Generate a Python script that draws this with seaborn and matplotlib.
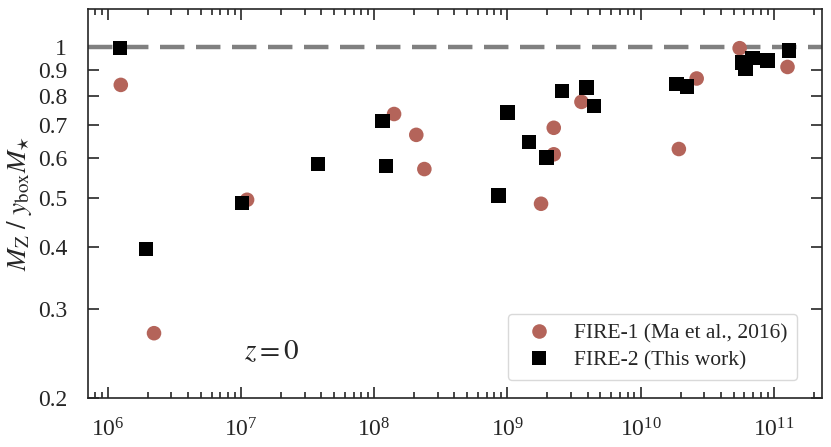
import numpy as np
import pandas as pd
import seaborn as sns
import matplotlib.pyplot as plt
from matplotlib.ticker import FixedLocator, FixedFormatter, LogLocator, NullLocator

# FIRE-1 points (Ma et al., 2016)
fire1_mstar = [1.25e6, 2.22e6, 1.11e7, 1.41e8, 2.07e8, 2.38e8, 1.79e9, 2.23e9,
               2.23e9, 3.6e9, 1.94e10, 2.64e10, 5.55e10, 1.27e11]
fire1_ratio = [0.84, 0.269, 0.496, 0.735, 0.668, 0.571, 0.487, 0.69,
               0.611, 0.777, 0.626, 0.865, 0.994, 0.912]

# FIRE-2 points (this work)
fire2_mstar = [1.23e6, 1.93e6, 1.02e7, 3.77e7, 1.15e8, 1.23e8, 8.6e8, 1.0e9,
               1.45e9, 1.96e9, 2.58e9, 3.93e9, 4.46e9, 1.86e10, 2.24e10,
               5.8e10, 6.16e10, 6.9e10, 8.95e10, 1.30e11]
fire2_ratio = [0.995, 0.396, 0.489, 0.584, 0.712, 0.579, 0.506, 0.74,
               0.646, 0.602, 0.817, 0.83, 0.763, 0.843, 0.834,
               0.93, 0.904, 0.95, 0.939, 0.983]

labels = ["FIRE-1 (Ma et al., 2016)", "FIRE-2 (This work)"]
yticks = [0.2, 0.3, 0.4, 0.5, 0.6, 0.7, 0.8, 0.9, 1.0]
ytick_labels = ["0.2", "0.3", "0.4", "0.5", "0.6", "0.7", "0.8", "0.9", "1"]

df = pd.DataFrame({
    "mstar": fire1_mstar + fire2_mstar,
    "ratio": fire1_ratio + fire2_ratio,
    "sim": [labels[0]] * len(fire1_mstar) + [labels[1]] * len(fire2_mstar),
})

sns.set_style("ticks")
plt.rcParams["font.family"] = ["Liberation Serif", "DejaVu Serif"]
plt.rcParams["mathtext.fontset"] = "stix"

fig = plt.figure(figsize=(8.31, 4.47), dpi=100)
ax = fig.add_axes([0.106, 0.11, 0.883, 0.87])

ax.axhline(1.0, color="#808080", lw=3.2, dashes=(5.5, 2.6), zorder=1)

sns.scatterplot(data=df, x="mstar", y="ratio", hue="sim", style="sim",
                palette={labels[0]: "#b4645a", labels[1]: "black"},
                markers={labels[0]: "o", labels[1]: "s"},
                s=110, linewidth=0, ax=ax, zorder=3)

ax.set_xscale("log")
ax.set_yscale("log")
ax.set_xlim(7.1e5, 2.3e11)
ax.set_ylim(0.2, 1.19)

ax.yaxis.set_major_locator(FixedLocator(yticks))
ax.yaxis.set_major_formatter(FixedFormatter(ytick_labels))
ax.yaxis.set_minor_locator(NullLocator())
ax.xaxis.set_major_locator(LogLocator(base=10, numticks=10))
ax.xaxis.set_minor_locator(LogLocator(base=10, subs=np.arange(2, 10), numticks=20))

ax.tick_params(which="both", direction="in", top=True, right=True, labelsize=17, width=1.2)
ax.tick_params(which="major", length=8)
ax.tick_params(which="minor", length=4)
ax.tick_params(axis="x", pad=15)
ax.tick_params(axis="y", pad=15)
for sp in ax.spines.values():
    sp.set_linewidth(1.2)

ax.set_xlabel("")
ax.set_ylabel(r"$M_{\mathrm{Z}}\ /\ y_{\mathrm{box}}M_{\star}$", fontsize=19.5, labelpad=3)

ax.text(1.71e7, 0.247, r"$z=0$", fontsize=21, ha="center", va="center")

sns.move_legend(ax, "lower right", title=None, frameon=True, fontsize=15.5,
                bbox_to_anchor=(0.966, 0.046), borderaxespad=0,
                handletextpad=0.6, borderpad=0.45, labelspacing=0.3,
                markerscale=1.0, edgecolor="#d0d0d0", fancybox=True)

fig.savefig("out.png", dpi=100)
